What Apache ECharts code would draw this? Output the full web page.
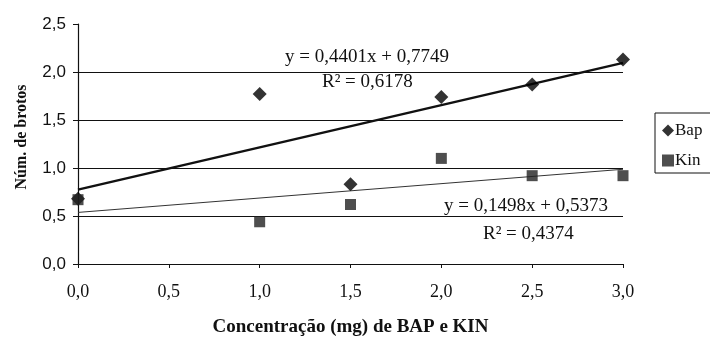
<!DOCTYPE html>
<html><head><meta charset="utf-8">
<script src="https://cdn.jsdelivr.net/npm/echarts@6/dist/echarts.min.js"></script>
<style>html,body{margin:0;padding:0;background:#fff}#c{width:710px;height:342px}</style>
</head><body><div id="c"></div>
<script>
const concentrations = [0, 1.0, 1.5, 2.0, 2.5, 3.0];
const bapValues = [0.68, 1.77, 0.83, 1.74, 1.87, 2.13];
const kinValues = [0.67, 0.44, 0.62, 1.10, 0.92, 0.92];
const bapFit = {slope: 0.4401, intercept: 0.7749, r2: '0,6178'};
const kinFit = {slope: 0.1498, intercept: 0.5373, r2: '0,4374'};
const fitRange = [0, 3.0];
const yTicks = [0, 0.5, 1.0, 1.5, 2.0, 2.5];

const fmt = v => v.toFixed(1).replace('.', ',');
const fmt4 = v => v.toFixed(4).replace('.', ',');
const fitLine = f => fitRange.map(x => [x, f.intercept + f.slope * x]);
const serif = '"Liberation Serif", "Times New Roman", serif';
const sans = '"Liberation Sans", Arial, sans-serif';

const chart = echarts.init(document.getElementById('c'));
chart.setOption({
  animation: false,
  backgroundColor: '#fff',
  grid: {left: 78, right: 87, top: 24, bottom: 75},
  xAxis: {
    type: 'value', min: 0, max: 3, interval: 0.5,
    name: 'Concentração (mg) de BAP e KIN', nameLocation: 'middle', nameGap: 54,
    nameTextStyle: {fontFamily: serif, fontWeight: 'bold', fontSize: 19, color: '#111'},
    axisLine: {lineStyle: {color: '#111', width: 1.2}},
    axisTick: {show: true, length: 4, lineStyle: {color: '#111'}},
    axisLabel: {formatter: v => fmt(v), fontFamily: serif, fontSize: 18, color: '#111', margin: 19},
    splitLine: {show: false}
  },
  yAxis: {
    type: 'value', min: yTicks[0], max: yTicks[yTicks.length - 1], interval: 0.5,
    name: 'Núm. de brotos', nameLocation: 'middle', nameGap: 48, nameRotate: 90,
    nameTextStyle: {fontFamily: serif, fontWeight: 'bold', fontSize: 16, color: '#111', padding: [0, 0, 0, 14]},
    axisLine: {show: true, lineStyle: {color: '#111', width: 1.2}},
    axisTick: {show: true, length: 5, lineStyle: {color: '#111'}},
    axisLabel: {formatter: v => fmt(v), fontFamily: sans, fontSize: 17, color: '#111', margin: 12},
    splitLine: {show: true, showMaxLine: false, lineStyle: {color: '#111', width: 1.2}}
  },
  legend: {
    orient: 'vertical', left: 655, top: 113,
    data: [{name: 'Bap', icon: 'diamond'}, {name: 'Kin', icon: 'rect'}],
    itemWidth: 12, itemHeight: 12, itemGap: 13,
    borderColor: '#111', borderWidth: 1, padding: [9, 30, 4, 7],
    textStyle: {fontFamily: serif, fontSize: 17, color: '#111', padding: [0, 0, 0, -4]}
  },
  graphic: [
    {type: 'text', left: 285, top: 48, style: {text: 'y = ' + fmt4(bapFit.slope) + 'x + ' + fmt4(bapFit.intercept), font: '19px ' + serif, fill: '#111'}},
    {type: 'text', left: 322, top: 73, style: {text: 'R² = ' + bapFit.r2, font: '19px ' + serif, fill: '#111'}},
    {type: 'text', left: 444, top: 197, style: {text: 'y = ' + fmt4(kinFit.slope) + 'x + ' + fmt4(kinFit.intercept), font: '19px ' + serif, fill: '#111'}},
    {type: 'text', left: 483, top: 225, style: {text: 'R² = ' + kinFit.r2, font: '19px ' + serif, fill: '#111'}}
  ],
  series: [
    {name: 'Bap trend', type: 'line', data: fitLine(bapFit), symbol: 'none', silent: true,
     lineStyle: {color: '#111', width: 2.5}, z: 3},
    {name: 'Kin trend', type: 'line', data: fitLine(kinFit), symbol: 'none', silent: true,
     lineStyle: {color: '#333', width: 1}, z: 3},
    {name: 'Kin', type: 'scatter', symbol: 'rect', symbolSize: 11,
     data: concentrations.map((x, i) => [x, kinValues[i]]), itemStyle: {color: '#222'}, z: 4},
    {name: 'Bap', type: 'scatter', symbol: 'diamond', symbolSize: [14, 14],
     data: concentrations.map((x, i) => [x, bapValues[i]]), itemStyle: {color: '#000'}, z: 3}
  ]
});
</script></body></html>
